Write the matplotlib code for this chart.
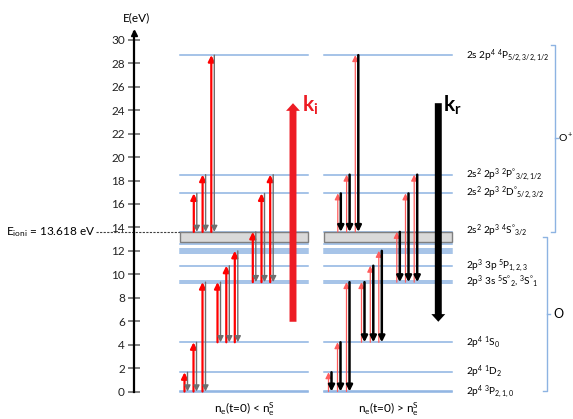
import matplotlib
matplotlib.use("Agg")
import matplotlib.pyplot as plt
from matplotlib.patches import Rectangle

plt.rcParams["font.family"] = ["Lato", "DejaVu Sans"]
plt.rcParams["mathtext.default"] = "regular"

# ---- data (eV) ----
E_ION = 13.618
O_LEVELS = [0.0, 0.08, 1.64, 4.2, 9.28, 9.4, 10.73, 11.84, 12.0, 12.16, 12.6]
OPLUS_LEVELS = [E_ION, 16.9, 18.5, 28.7]
CONT_BOTTOM = 12.75

LEVEL_NAMES = [
    r"2s 2p$^4$ $^4$P$_{5/2,3/2,1/2}$",
    r"2s$^2$ 2p$^3$ $^2$P$^{°}$$_{3/2,1/2}$",
    r"2s$^2$ 2p$^3$ $^2$D$^{°}$$_{5/2,3/2}$",
    r"2s$^2$ 2p$^3$ $^4$S$^{°}$$_{3/2}$",
    r"2p$^3$ 3p $^5$P$_{1,2,3}$",
    r"2p$^3$ 3s $^5$S$^{°}$$_2$, $^3$S$^{°}$$_1$",
    r"2p$^4$ $^1$S$_0$",
    r"2p$^4$ $^1$D$_2$",
    r"2p$^4$ $^3$P$_{2,1,0}$",
]
LEVEL_NAME_E = [28.7, 18.5, 16.95, 13.75, 10.75, 9.33, 4.2, 1.66, 0.0]

# transitions: lower -> upper level
TRANS_LO = [0, 0, 0, 4.2, 4.2, 4.2, 9.33, 9.33, 9.33, E_ION, E_ION, E_ION]
TRANS_HI = [1.64, 4.2, 9.33, 9.33, 10.73, 12.0, E_ION, 16.9, 18.5, 16.9, 18.5, 28.7]

K_LOW, K_HIGH = 5.95, 24.6
CAPTIONS = [r"n$_e$(t=0) < n$_e^S$", r"n$_e$(t=0) > n$_e^S$"]

# ---- layout (pixels in x, eV in y) ----
PX_PER_EV = 11.72
Y0_PX = 391.5
PANEL_X = [180, 324]
PANEL_W = 128
SLOT_X = [4.5, 13.5, 22.5, 37.5, 46.3, 54.8, 72.8, 81.5, 90.2, 13.8, 22.6, 31.3]
PAIR_GAP = 3.0
LEVEL_COLOR = "#8db3e2"

fig = plt.figure(figsize=(5.73, 4.19), dpi=100)
ax = fig.add_axes([0, 0, 1, 1])
ax.set_xlim(0, 573)
ax.set_ylim(-(419 - Y0_PX) / PX_PER_EV, Y0_PX / PX_PER_EV)

# energy axis
axis_x = 133.7
for s in ("top", "right", "bottom"):
    ax.spines[s].set_visible(False)
ax.spines["left"].set_position(("data", axis_x))
ax.spines["left"].set_bounds(0, 30.7)
ax.spines["left"].set_linewidth(1.6)
ax.set_xticks([])
ax.set_yticks(range(0, 31, 2))
ax.tick_params(axis="y", direction="inout", length=8.6, width=1.1, color="#606060",
               labelsize=8.5, pad=2, labelcolor="#222222")
ax.plot(axis_x, 30.6, marker="^", ms=4, color="black", clip_on=False)
ax.text(136, 31.9, "E(eV)", ha="center", va="center", fontsize=8.5)

# ionisation energy marker
ax.plot([96, PANEL_X[0]], [E_ION, E_ION], ls=(0, (2, 1.2)), color="#404040", lw=0.8)
ax.text(95, E_ION, r"E$_{ioni}$ = 13.618 eV", ha="right", va="center", fontsize=8.5)

for p, x0 in enumerate(PANEL_X):
    x1 = x0 + PANEL_W
    for e in O_LEVELS + OPLUS_LEVELS:
        ax.plot([x0, x1], [e, e], color=LEVEL_COLOR, lw=1.1, zorder=1)
    ax.add_patch(Rectangle((x0, CONT_BOTTOM), PANEL_W, E_ION - CONT_BOTTOM,
                           facecolor="#d9d9d9", edgecolor="#7f7f7f", lw=1.0, zorder=2))

    if p == 0:
        up_style = dict(color="#ff0000", lw=1.6)
        dn_style = dict(color="#6e6e6e", lw=1.0)
    else:
        up_style = dict(color="#ff5c5c", lw=0.9)
        dn_style = dict(color="#000000", lw=1.8)

    for sx, lo, hi in zip(SLOT_X, TRANS_LO, TRANS_HI):
        xr = x0 + sx
        ax.annotate("", xy=(xr, hi), xytext=(xr, lo),
                    arrowprops=dict(arrowstyle="-|>", mutation_scale=9, shrinkA=0, shrinkB=0,
                                    **up_style), zorder=3)
        ax.annotate("", xy=(xr + PAIR_GAP, lo), xytext=(xr + PAIR_GAP, hi),
                    arrowprops=dict(arrowstyle="-|>", mutation_scale=9, shrinkA=0, shrinkB=0,
                                    **dn_style), zorder=3)

    ax.text(x0 + 64, -1.55, CAPTIONS[p], ha="center", va="center", fontsize=8.5)

# ionisation / recombination rates
big = "simple,head_length=0.55,head_width=1.0,tail_width=0.5"
ax.annotate("", xy=(293, K_HIGH), xytext=(293, K_LOW),
            arrowprops=dict(arrowstyle=big, mutation_scale=10, color="#ed1c24",
                            shrinkA=0, shrinkB=0, lw=0), zorder=4)
ax.text(302, K_HIGH - 0.2, r"k$_i$", color="#ed1c24", fontsize=15, fontweight="bold",
        ha="left", va="center")
ax.annotate("", xy=(438.3, K_LOW), xytext=(438.3, K_HIGH),
            arrowprops=dict(arrowstyle=big, mutation_scale=10, color="black",
                            shrinkA=0, shrinkB=0, lw=0), zorder=4)
ax.text(443, K_HIGH - 0.2, r"k$_r$", color="black", fontsize=15, fontweight="bold",
        ha="left", va="center")

# level names
for name, e in zip(LEVEL_NAMES, LEVEL_NAME_E):
    ax.text(466, e, name, ha="left", va="center", fontsize=7.2)


def bracket(x, y0, y1, arm, label, lx, fs):
    ym = (y0 + y1) / 2
    ax.plot([x - arm, x, x, x - arm], [y1, y1, y0, y0], color=LEVEL_COLOR, lw=1.0)
    ax.plot([x, x + 3], [ym, ym], color=LEVEL_COLOR, lw=1.0)
    ax.text(lx, ym, label, ha="left", va="center", fontsize=fs)


bracket(555, 13.63, 29.56, 4, r"O$^+$", 558, 7.5)
bracket(547.3, 0.04, 13.2, 4, "O", 553, 9)

fig.savefig("out.png", dpi=100)
